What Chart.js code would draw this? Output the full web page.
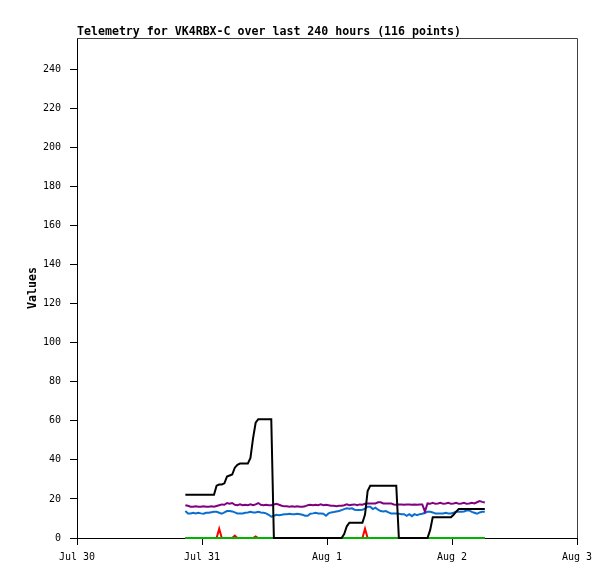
<!DOCTYPE html>
<html>
<head>
<meta charset="utf-8">
<script src="https://cdn.jsdelivr.net/npm/chart.js@4/dist/chart.umd.min.js"></script>
<style>
  html, body { margin: 0; padding: 0; background: #ffffff; }
  #wrap { width: 615px; height: 579px; position: relative; }
</style>
</head>
<body>
<div id="wrap"><canvas id="c" width="615" height="579"></canvas></div>
<script>
// Hours since Jul 30 00:00 for each of the 116 points
const hours = [
  20.8,21.3,21.8,22.3,22.8,23.3,23.8,24.3,24.8,25.3,
  25.8,26.3,26.8,27.3,27.8,28.3,28.8,29.3,29.8,30.3,
  30.8,31.3,31.8,32.3,32.8,33.3,33.8,34.3,34.8,35.3,
  35.8,36.3,36.8,37.3,37.8,38.3,38.8,39.3,39.8,40.3,
  40.8,41.3,41.8,42.3,42.8,43.3,43.8,44.3,44.8,45.3,
  45.8,46.3,46.8,47.3,47.8,48.3,48.8,49.3,49.8,50.3,
  50.8,51.3,51.8,52.3,52.8,53.3,53.8,54.3,54.8,55.3,
  55.8,56.3,56.8,57.3,57.8,58.3,58.8,59.3,59.8,60.3,
  60.8,61.3,61.8,62.3,62.8,63.3,63.8,64.3,64.8,65.3,
  65.8,66.3,66.8,67.3,67.8,68.3,68.8,69.3,69.8,70.3,
  70.8,71.3,71.8,72.3,72.8,73.3,73.8,74.3,74.8,75.3,
  75.8,76.3,76.8,77.3,77.8,78.3
];

const blackSeries = [
  22.1,22.1,22.1,22.1,22.1,22.1,22.1,22.1,22.1,22.1,
  22.1,22.1,26.8,27.4,27.4,28.0,31.5,32.0,32.5,36.0,
  37.5,38.1,38.1,38.1,38.1,41.0,51.0,59.0,60.8,60.8,
  60.8,60.8,60.8,60.8,0,0,0,0,0,0,
  0,0,0,0,0,0,0,0,0,0,
  0,0,0,0,0,0,0,0,0,0,
  0,2.0,6.0,7.8,7.8,7.8,7.8,7.8,7.8,12.0,
  24.0,26.7,26.7,26.7,26.7,26.7,26.7,26.7,26.7,26.7,
  26.7,26.7,0,0,0,0,0,0,0,0,
  0,0,0,0,4.0,10.6,10.6,10.6,10.6,10.6,
  10.6,10.6,10.6,11.9,13.5,14.8,14.9,14.9,14.9,14.9,
  14.9,14.9,14.9,14.9,14.9,14.9
];

const purpleSeries = [
  16.8,16.5,16.0,16.0,16.2,16.0,16.0,16.2,16.0,16.0,
  16.2,16.0,16.4,16.8,17.2,17.0,17.9,17.5,17.9,17.0,
  16.8,17.2,16.8,17.0,16.8,17.2,16.8,17.2,17.9,17.0,
  16.8,17.0,16.8,16.8,17.2,17.5,17.0,16.5,16.2,16.2,
  16.0,16.2,16.0,16.2,16.0,16.0,16.2,16.8,17.0,16.8,
  17.0,16.8,17.2,16.8,17.0,16.8,16.5,16.5,16.3,16.5,
  16.5,16.8,17.2,16.8,17.0,17.2,16.8,17.2,17.0,17.5,
  17.7,17.7,17.7,17.7,18.3,18.3,17.7,17.7,17.7,17.7,
  17.2,17.0,17.2,17.2,17.0,17.2,17.2,17.0,17.2,17.0,
  17.2,17.2,13.5,17.7,17.5,18.0,17.5,17.7,18.0,17.5,
  17.7,18.0,17.5,17.7,18.0,17.5,17.7,18.0,17.5,17.7,
  18.0,17.7,18.3,18.9,18.5,18.2
];

const blueSeries = [
  13.8,12.6,12.6,12.9,12.6,12.9,12.6,12.4,12.9,12.9,
  13.2,13.4,13.4,12.9,12.4,13.1,13.8,13.8,13.6,13.1,
  12.6,12.6,12.6,12.9,13.1,13.4,13.1,13.1,13.4,13.1,
  12.9,12.6,11.9,10.9,11.4,11.9,11.7,11.9,12.2,12.2,
  12.4,12.2,12.2,12.4,12.2,11.9,11.4,11.4,12.4,12.6,
  12.9,12.6,12.6,12.4,11.4,12.6,13.1,13.3,13.6,13.8,
  14.3,14.8,15.2,15.0,15.2,14.5,14.3,14.3,14.5,15.0,
  16.0,16.0,14.8,15.5,14.5,13.8,13.6,13.8,13.1,12.6,
  12.6,12.6,12.4,12.2,12.2,11.4,12.2,11.2,12.2,11.7,
  12.2,12.4,12.9,13.4,13.4,13.1,12.6,12.6,12.6,12.6,
  12.9,12.6,12.6,12.9,13.4,13.4,13.4,13.6,14.1,14.1,
  13.4,12.9,12.4,13.1,13.4,13.4
];

const redSeries = [
  0,0,0,0,0,0,0,0,0,0,
  0,0,0,4.8,0,0,0,0,0,1.2,
  0,0,0,0,0,0,0,0.8,0,0,
  0,0,0,0,0,0,0,0,0,0,
  0,0,0,0,0,0,0,0,0,0,
  0,0,0,0,0,0,0,0,0,0,
  0,0,0,0,0,0,0,0,0,4.8,
  0,0,0,0,0,0,0,0,0,0,
  0,0,0,0,0,0,0,0,0,0,
  0,0,0,0,0,0,0,0,0,0,
  0,0,0,0,0,0,0,0,0,0,
  0,0,0,0,0,0
];

const greenSeries = [
  0,0,0,0,0,0,0,0,0,0,
  0,0,0,0,0,0,0,0,0,0,
  0,0,0,0,0,0,0,0,0,0,
  0,0,0,0,0,0,0,0,0,0,
  0,0,0,0,0,0,0,0,0,0,
  0,0,0,0,0,0,0,0,0,0,
  0,0,0,0,0,0,0,0,0,0,
  0,0,0,0,0,0,0,0,0,0,
  0,0,0,0,0,0,0,0,0,0,
  0,0,0,0,0,0,0,0,0,0,
  0,0,0,0,0,0,0,0,0,0,
  0,0,0,0,0,0
];

const xTickValues = [0, 24, 48, 72, 96];
const xTickLabels = ["Jul 30", "Jul 31", "Aug 1", "Aug 2", "Aug 3"];
const yTickValues = [0, 20, 40, 60, 80, 100, 120, 140, 160, 180, 200, 220, 240];

const titleText = "Telemetry for VK4RBX-C over last 240 hours (116 points)";
const yTitleText = "Values";

function pts(arr) { return arr.map((v, i) => ({ x: hours[i], y: v })); }

const MONO = "'DejaVu Sans Mono', 'Liberation Mono', monospace";

const framePlugin = {
  id: 'frame',
  afterDraw(chart) {
    const { ctx, chartArea: a } = chart;
    ctx.save();
    ctx.strokeStyle = '#404040';
    ctx.lineWidth = 1;
    ctx.beginPath();
    ctx.moveTo(a.left, a.top + 0.5);
    ctx.lineTo(a.right + 0.5, a.top + 0.5);
    ctx.lineTo(a.right + 0.5, a.bottom);
    ctx.stroke();
    // title
    ctx.fillStyle = '#000';
    ctx.font = "bold 11.6px " + MONO;
    ctx.textAlign = 'left';
    ctx.textBaseline = 'alphabetic';
    ctx.fillText(titleText, a.left, 35);
    // y axis title
    ctx.translate(36, (a.top + a.bottom) / 2);
    ctx.rotate(-Math.PI / 2);
    ctx.textAlign = 'center';
    ctx.fillText(yTitleText, 0, 0);
    ctx.restore();
  }
};

const common = { pointRadius: 0, pointHoverRadius: 0, borderWidth: 2, tension: 0, fill: false, clip: false };

new Chart(document.getElementById('c'), {
  type: 'line',
  data: {
    datasets: [
      Object.assign({ label: 'black', data: pts(blackSeries), borderColor: '#000000', order: 0 }, common),
      Object.assign({ label: 'purple', data: pts(purpleSeries), borderColor: '#800080', order: 1 }, common),
      Object.assign({ label: 'blue', data: pts(blueSeries), borderColor: '#0a6ed1', order: 2 }, common),
      Object.assign({ label: 'green', data: pts(greenSeries), borderColor: '#00b400', order: 3 }, common),
      Object.assign({ label: 'red', data: pts(redSeries), borderColor: '#ff0000', order: 4 }, common)
    ]
  },
  options: {
    responsive: false,
    animation: false,
    devicePixelRatio: 1,
    layout: { padding: { top: 38, right: 38, left: 0, bottom: 0 } },
    plugins: { legend: { display: false }, title: { display: false }, tooltip: { enabled: false } },
    events: [],
    scales: {
      x: {
        type: 'linear',
        min: 0,
        max: 96,
        afterBuildTicks(scale) { scale.ticks = xTickValues.map(v => ({ value: v })); },
        afterFit(scale) { scale.height = 41; },
        ticks: {
          autoSkip: false,
          maxRotation: 0,
          padding: 6,
          color: '#000',
          font: { family: MONO, size: 10 },
          callback(value) { const k = xTickValues.indexOf(value); return k >= 0 ? xTickLabels[k] : ''; }
        },
        grid: { display: true, drawOnChartArea: false, drawTicks: true, tickLength: 7, color: '#000', tickColor: '#000' },
        border: { display: true, color: '#000', width: 1 }
      },
      y: {
        type: 'linear',
        min: 0,
        max: 256,
        afterBuildTicks(scale) { scale.ticks = yTickValues.map(v => ({ value: v })); },
        afterFit(scale) { scale.width = 77; },
        ticks: {
          autoSkip: false,
          padding: 9,
          color: '#000',
          font: { family: MONO, size: 10 }
        },
        grid: { display: true, drawOnChartArea: false, drawTicks: true, tickLength: 7, color: '#000', tickColor: '#000' },
        border: { display: true, color: '#000', width: 1 }
      }
    }
  },
  plugins: [framePlugin]
});
</script>
</body>
</html>
